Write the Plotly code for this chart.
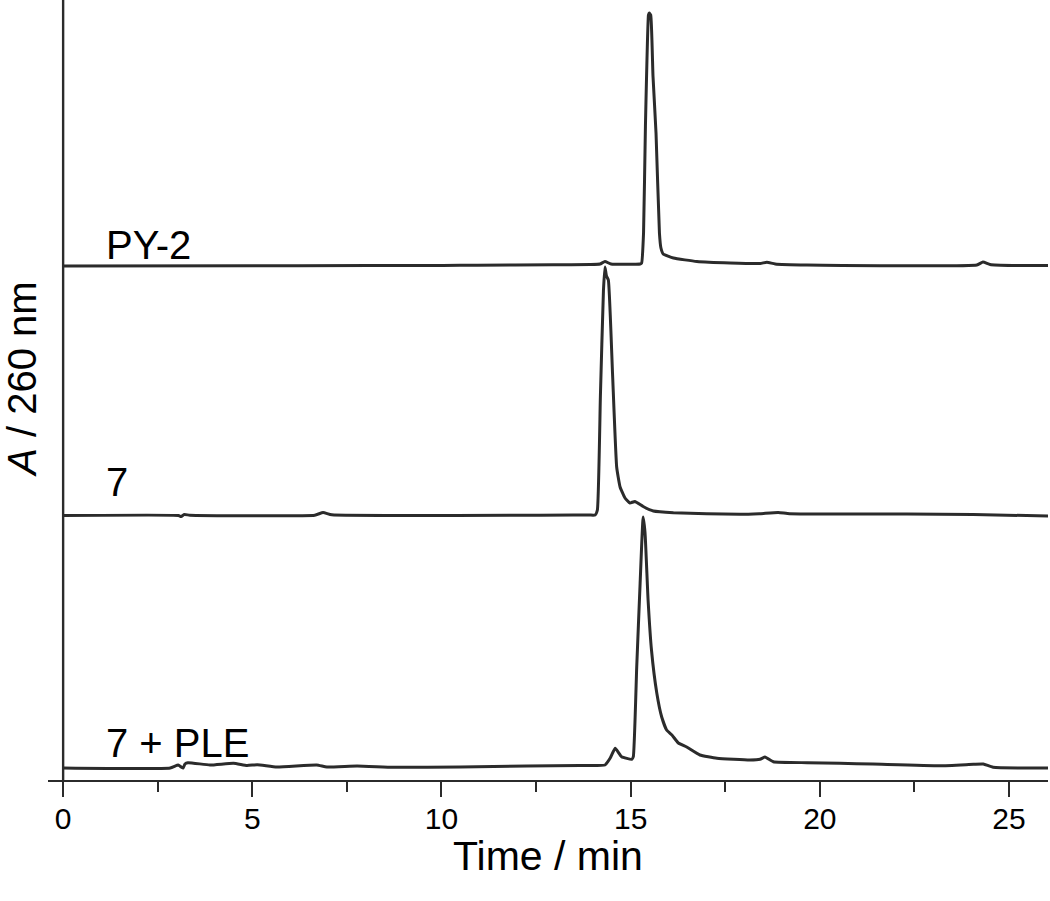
import plotly.graph_objects as go

# ---- data ----
# Retention time (min) and absorbance (arbitrary units, relative to each trace's own baseline)
py2_time = [0.0, 6.21, 10.04, 10.94, 12.95, 13.93, 14.19, 14.32, 14.48, 15.25, 15.29, 15.34,
            15.39, 15.47, 15.49, 15.53, 15.59, 15.67, 15.76, 15.80, 15.86, 16.13, 16.75,
            17.63, 18.42, 18.60, 18.82, 19.66, 24.15, 24.31, 24.50, 25.10, 26.03]
py2_abs = [0.0, 0.3, 0.5, 0.8, 1.2, 1.5, 2.0, 4.5, 2.0, 2.0, 3.0, 33,
           140, 251, 253, 251, 190, 133, 33, 18, 12, 8, 4.5,
           3.0, 2.5, 3.8, 2.0, 1.0, 1.0, 4.0, 1.5, 0.5, 0.5]

c7_time = [0.0, 3.05, 3.12, 3.20, 3.35, 6.65, 6.87, 7.10, 13.90, 14.06, 14.12, 14.20,
           14.28, 14.32, 14.36, 14.41, 14.52, 14.63, 14.72, 14.85, 14.98, 15.11, 15.33,
           15.60, 16.13, 17.89, 18.40, 18.90, 19.20, 22.30, 24.05, 26.03]
c7_abs = [0.5, 0.5, -0.5, 1.5, 0.8, 0.8, 3.5, 1.2, 1.0, 1.0, 6.0, 120,
          225, 249, 240, 236, 143, 49, 29, 18, 13, 14.5, 9.5,
          5.0, 3.3, 1.7, 2.3, 3.5, 2.3, 2.0, 1.5, 0.0]

ple_time = [0.0, 2.83, 3.04, 3.12, 3.17, 3.22, 3.30, 3.88, 4.50, 4.86, 5.13, 5.65, 6.70,
            6.97, 7.77, 8.73, 10.50, 12.26, 13.66, 14.32, 14.46, 14.59, 14.76, 15.03,
            15.07, 15.16, 15.25, 15.33, 15.38, 15.46, 15.55, 15.69, 15.82, 15.95, 16.09,
            16.26, 16.48, 16.83, 17.28, 18.15, 18.42, 18.55, 18.77, 19.66, 20.53, 21.40,
            23.18, 24.06, 24.32, 24.58, 26.03]
ple_abs = [0.0, 0.0, 3.0, 1.0, 0.0, 4.0, 5.3, 3.0, 4.7, 2.5, 3.3, 1.0, 3.0,
           1.0, 2.0, 0.7, 1.0, 2.0, 2.5, 3.0, 10, 19.7, 11.3, 8.7,
           11.3, 101, 185, 251, 235, 168, 118, 75, 51, 38, 33,
           25, 21, 13, 9.7, 8.0, 8.7, 11, 6.3, 5.3, 4.7, 4.0,
           2.3, 3.7, 4.0, 0.7, 0.0]

trace_names = ["PY-2", "7", "7 + PLE"]
trace_offsets = [514, 264, 12]   # vertical stacking offsets

x_tick_vals = [0, 5, 10, 15, 20, 25]
x_tick_text = ["0", "5", "10", "15", "20", "25"]
x_title = "Time / min"
y_title = "<i>A</i> / 260 nm"

LINE = "#2b2b2b"
FONT = "Liberation Sans, Arial, sans-serif"

fig = go.Figure()
series = [(py2_time, py2_abs), (c7_time, c7_abs), (ple_time, ple_abs)]
for (t, a), name, off in zip(series, trace_names, trace_offsets):
    fig.add_trace(go.Scatter(
        x=t, y=[v + off for v in a], mode="lines", name=name,
        line=dict(color=LINE, width=3, shape="spline", smoothing=0.4),
        showlegend=False, hoverinfo="skip"))

# trace labels
label_y = [535, 298, 37]
for name, ly in zip(trace_names, label_y):
    fig.add_annotation(x=1.08, y=ly, xref="x", yref="y", text=name, showarrow=False,
                       xanchor="left", yanchor="middle",
                       font=dict(family=FONT, size=40, color="#000"))

# axis titles
fig.add_annotation(x=0.5, y=-0.098, xref="paper", yref="paper", text=x_title,
                   showarrow=False, xanchor="center", yanchor="middle",
                   font=dict(family=FONT, size=41, color="#000"))
fig.add_annotation(x=-0.026, y=0.513, xref="paper", yref="paper", text=y_title,
                   showarrow=False, xanchor="center", yanchor="middle", textangle=-90,
                   font=dict(family=FONT, size=40, color="#000"))

# y axis line at t = 0
fig.add_shape(type="line", xref="x", yref="paper", x0=0, x1=0, y0=0, y1=1,
              line=dict(color=LINE, width=2.4))

fig.update_layout(
    width=1050, height=901,
    margin=dict(l=48, r=2, t=0, b=121),
    paper_bgcolor="white", plot_bgcolor="white",
    font=dict(family=FONT, color="#000"),
    xaxis=dict(range=[-0.4, 26.03], showgrid=False, zeroline=False, automargin=False,
               showline=True, linecolor=LINE, linewidth=2.4,
               ticks="outside", ticklen=15, tickwidth=2.4, tickcolor=LINE,
               ticklabelstandoff=-4,
               tickvals=x_tick_vals, ticktext=x_tick_text,
               tickfont=dict(family=FONT, size=30, color="#000"),
               minor=dict(ticks="outside", ticklen=10, tickwidth=2.4, tickcolor=LINE,
                          dtick=2.5, tick0=0, showgrid=False)),
    yaxis=dict(range=[0, 780], showgrid=False, zeroline=False, showline=False,
               automargin=False, showticklabels=False, ticks=""),
)

fig.write_html("out.html", config={"displayModeBar": False},
               post_script="document.body.style.margin='0';")
